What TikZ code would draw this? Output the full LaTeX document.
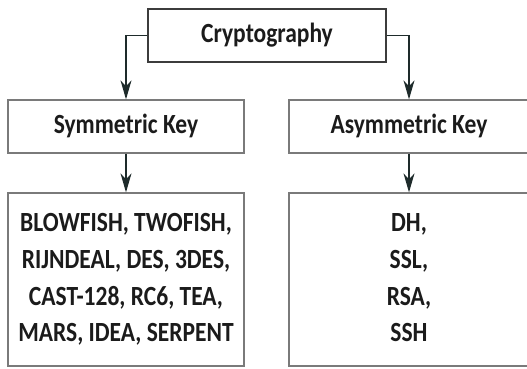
\documentclass[tikz,border=0pt]{standalone}
\usepackage{fontspec}
\setmainfont{Carlito}
\usetikzlibrary{arrows.meta}
\definecolor{boxline}{HTML}{7A7A7A}
\definecolor{topline}{HTML}{3C3C3C}
\definecolor{wire}{HTML}{1E2B2B}
\definecolor{ink}{HTML}{1B1B1B}
% text is set slightly taller than wide
\newcommand{\tallbox}[1]{\scalebox{1}[1.18]{\begin{tabular}{@{}c@{}}#1\end{tabular}}}
\tikzset{
  catbox/.style={draw=boxline, line width=1.3pt, rectangle, inner sep=0pt,
    text=ink, font=\fontsize{23.5}{31}\selectfont\bfseries},
  wireline/.style={draw=wire, line width=1.2pt,
    -{Stealth[length=19pt, width=11pt, inset=6pt]}}
}
\begin{document}
\begin{tikzpicture}[x=1pt, y=-1pt]
  \useasboundingbox (0,0) rectangle (527,368);
  \clip (0,0) rectangle (527,368);
  \fill[white] (0,0) rectangle (527,368);

  \node[catbox, draw=topline, minimum width=238pt, minimum height=53pt] (crypto) at (267,35.5) {\tallbox{Cryptography}};
  \node[catbox, minimum width=236pt, minimum height=53pt] (sym) at (126,126.5) {\tallbox{Symmetric Key}};
  \node[catbox, minimum width=240pt, minimum height=53pt] (asym) at (409,126.5) {\tallbox{Asymmetric Key}};
  \node[catbox, minimum width=236pt, minimum height=173pt] (symlist) at (126,279.5)
    {\tallbox{BLOWFISH, TWOFISH,\\RIJNDEAL, DES, 3DES,\\CAST-128, RC6, TEA,\\MARS, IDEA, SERPENT}};
  \node[catbox, minimum width=240pt, minimum height=173pt] (asymlist) at (409,279.5)
    {\tallbox{DH,\\SSL,\\RSA,\\SSH}};

  \draw[wireline] (crypto.west) -| (sym.north);
  \draw[wireline] (crypto.east) -| (asym.north);
  \draw[wireline] (sym.south) -- (symlist.north);
  \draw[wireline] (asym.south) -- (asymlist.north);
\end{tikzpicture}
\end{document}
